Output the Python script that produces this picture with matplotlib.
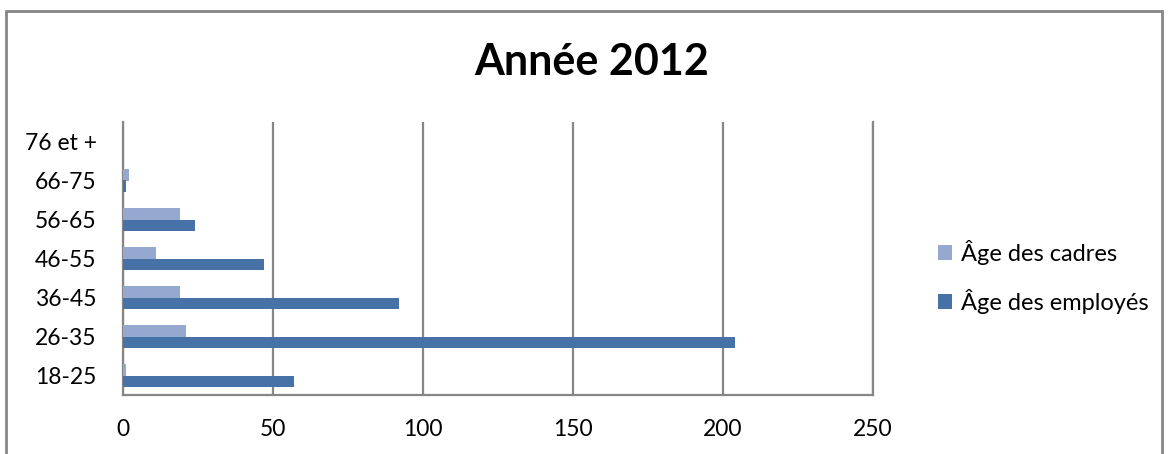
import matplotlib
matplotlib.use("Agg")
import matplotlib.pyplot as plt
from matplotlib.patches import Rectangle, Patch
import numpy as np

plt.rcParams['font.family'] = ['Lato', 'DejaVu Sans']

categories = ["18-25", "26-35", "36-45", "46-55", "56-65", "66-75", "76 et +"]
cadres = [1, 21, 19, 11, 19, 2, 0]
employes = [57, 204, 92, 47, 24, 1, 0]
xticks = [0, 50, 100, 150, 200, 250]
title = "Année 2012"
labels = ["Âge des cadres", "Âge des employés"]

W, H = 1169, 454
fig = plt.figure(figsize=(W / 100, H / 100), dpi=100)

# outer chart frame
fig.patches.append(Rectangle((6 / W, -0.1), (1162 - 6) / W, 1.1 - 11 / H,
                             transform=fig.transFigure, fill=False,
                             edgecolor="#868686", linewidth=2))

ax = fig.add_axes([123 / W, (H - 395) / H, (873 - 123) / W, (395 - 122) / H])

y = np.arange(len(categories))
h = 0.29
c_cad = "#95A9D0"
c_emp = "#4672A8"
ax.barh(y + h / 2, cadres, height=h, color=c_cad, linewidth=0, zorder=3)
ax.barh(y - h / 2, employes, height=h, color=c_emp, linewidth=0, zorder=3)

ax.set_xlim(0, 250)
ax.set_ylim(-0.5, len(categories) - 0.5)
ax.set_xticks(xticks)
ax.set_xticklabels([str(v) for v in xticks], fontsize=16.5)
ax.set_yticks(y)
ax.set_yticklabels(categories, fontsize=16.5)
ax.tick_params(axis="y", length=0, pad=19)
ax.tick_params(axis="x", length=0, pad=17)
ax.xaxis.grid(True, color="#868686", linewidth=1.6, zorder=0)
ax.spines["top"].set_visible(False)
for s in ["left", "bottom", "right"]:
    ax.spines[s].set_color("#868686")
    ax.spines[s].set_linewidth(1.6)

fig.text(592 / W, 1 - 62 / H, title, fontsize=31, fontweight="bold",
         ha="center", va="center")

handles = [Patch(facecolor=c_cad, edgecolor="none"), Patch(facecolor=c_emp, edgecolor="none")]
fig.legend(handles, labels, loc="center left", bbox_to_anchor=(917 / W, 1 - 277 / H),
           frameon=False, fontsize=17, handlelength=0.6, handleheight=0.6,
           handletextpad=0.35, labelspacing=1.0)

fig.savefig("out.png", dpi=100)
